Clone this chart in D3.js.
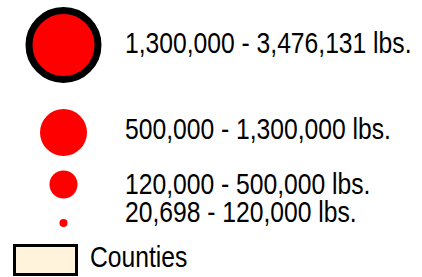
<!DOCTYPE html>
<html>
<head>
<meta charset="utf-8">
<script src="https://cdn.jsdelivr.net/npm/d3@7"></script>
<style>
  body { margin: 0; background: #fff; }
  svg text { font-family: "Liberation Sans", Arial, sans-serif; fill: #000; }
</style>
</head>
<body>
<svg id="legend" width="422" height="277"></svg>
<script>
// class breaks (lbs.), largest class first
const lows = [1300000, 500000, 120000, 20698];
const highs = [3476131, 1300000, 500000, 120000];
const classIds = ["c4", "c3", "c2", "c1"];
const countyLabel = "Counties";

const fmt = d3.format(",");
const labels = lows.map((d, i) => fmt(d) + " - " + fmt(highs[i]) + " lbs.");

const svg = d3.select("#legend");
const narrow = 0.822; // fake a condensed face

// vertical placement of each class row (symbol centre)
const y = d3.scaleOrdinal()
  .domain(classIds)
  .range([45, 132.5, 184.5, 223]);

// symbol size for each class
const r = d3.scaleOrdinal()
  .domain(classIds)
  .range([34.5, 23.5, 14, 4]);

// text baseline for each row
const ty = d3.scaleOrdinal()
  .domain(classIds)
  .range([53, 139, 194, 222]);

const cx = 63.5;

const rows = svg.selectAll("g.row")
  .data(classIds)
  .enter()
  .append("g")
  .attr("class", "row");

rows.append("circle")
  .attr("cx", cx)
  .attr("cy", d => y(d))
  .attr("r", d => r(d))
  .attr("fill", "#ff0000")
  .attr("stroke", (d, i) => i === 0 ? "#000" : "none")
  .attr("stroke-width", 7);

rows.append("text")
  .attr("transform", d => "translate(125," + ty(d) + ") scale(" + narrow + ",1)")
  .attr("font-size", 30)
  .text((d, i) => labels[i]);

// counties swatch
svg.append("rect")
  .attr("x", 14.5)
  .attr("y", 245.5)
  .attr("width", 62)
  .attr("height", 29)
  .attr("fill", "#fff3dc")
  .attr("stroke", "#000")
  .attr("stroke-width", 3);

svg.append("text")
  .attr("transform", "translate(90,267) scale(" + narrow + ",1)")
  .attr("font-size", 30)
  .text(countyLabel);
</script>
</body>
</html>
